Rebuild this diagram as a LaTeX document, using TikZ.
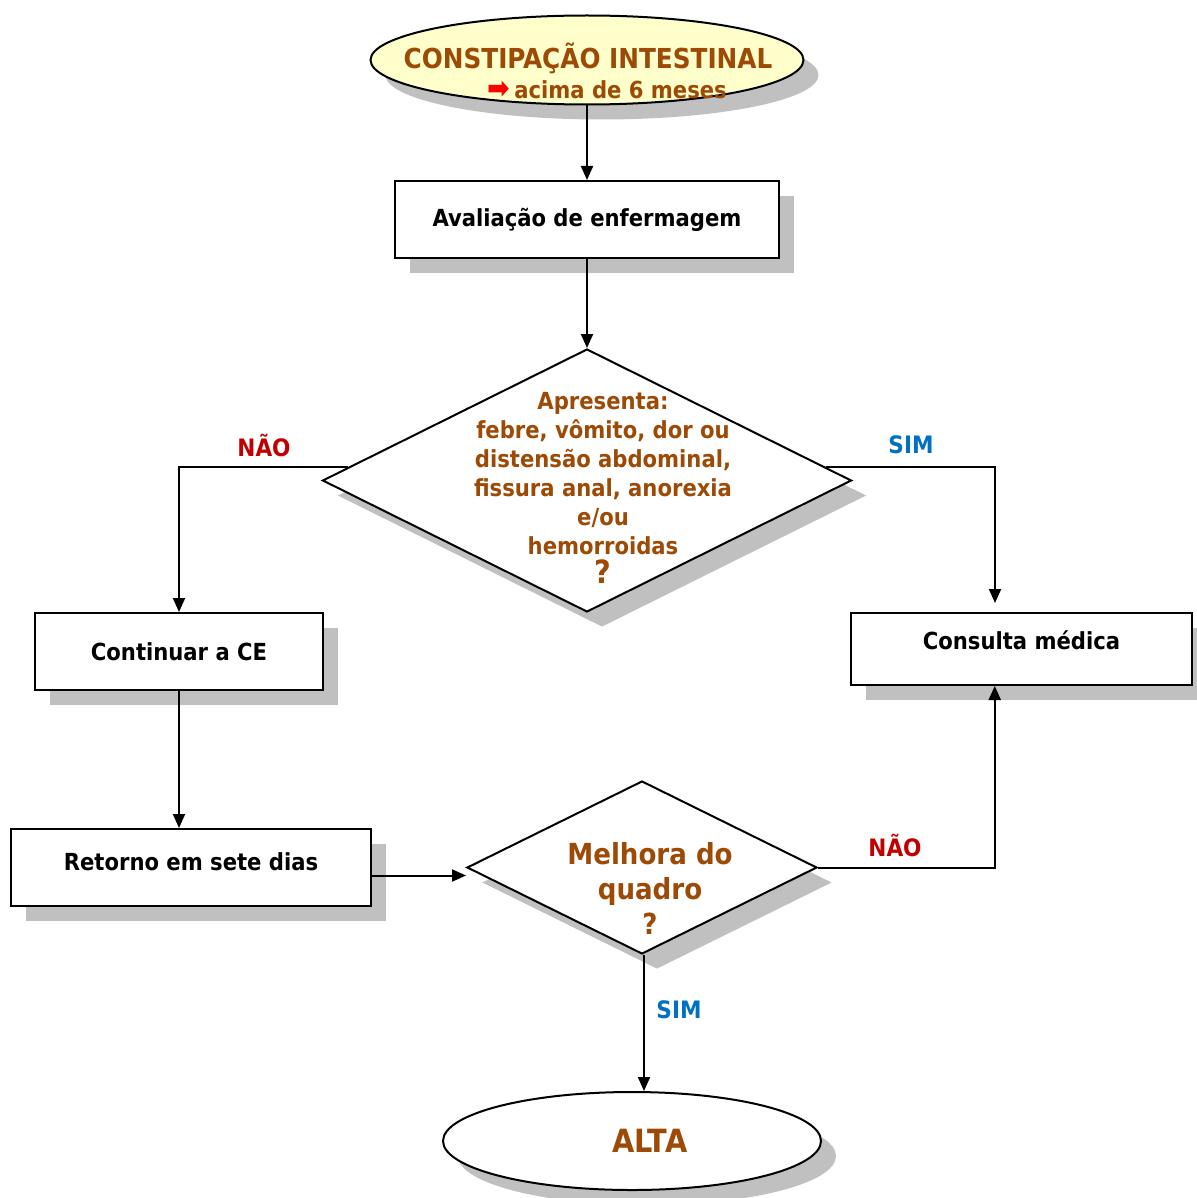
\documentclass[tikz,border=0pt]{standalone}
\usepackage{fontspec}
\setmainfont{DejaVu Sans Condensed}
\usepackage{xcolor}
\definecolor{rust}{HTML}{9C4A06}
\definecolor{cream}{HTML}{FFFFCC}
\definecolor{nored}{HTML}{C00000}
\definecolor{yesblue}{HTML}{0070C0}
\definecolor{shade}{HTML}{C0C0C0}
\usetikzlibrary{shapes.geometric,shadows,arrows.meta,calc}

\begin{document}
\begin{tikzpicture}[x=1pt,y=-1pt,line join=miter,
  shd/.style={drop shadow={shadow xshift=15pt,shadow yshift=-15pt,fill=shade,opacity=1}},
  stepbox/.style={draw,line width=2pt,fill=white,shd,minimum height=77pt,inner sep=0pt,font=\bfseries\fontsize{23.5}{28}\selectfont},
  decide/.style={diamond,draw,line width=2pt,fill=white,shd,inner sep=0pt},
  oval/.style={ellipse,draw,line width=2pt,shd,inner sep=0pt},
  arr/.style={line width=2pt,-{Triangle[length=14pt,width=12pt]}},
  lbl/.style={font=\bfseries\fontsize{24}{28}\selectfont},
  qtext/.style={text=rust,align=center,font=\bfseries\fontsize{23.5}{29}\selectfont}]
  \useasboundingbox (0,0) rectangle (1196,1198);
  % start and end
  \node[oval,fill=cream,minimum width=433pt,minimum height=89pt] (start) at (587,60) {};
  \node[text=rust,align=center,font=\bfseries\fontsize{27.5}{30}\selectfont] (starttxt) at (588,71)
    {CONSTIPAÇÃO INTESTINAL\\\hspace*{38pt}{\color{red}\fontsize{30}{28}\selectfont ➡}\,{\fontsize{23.5}{28}\selectfont acima de 6 meses}};
  \node[oval,fill=white,minimum width=378pt,minimum height=98pt] (alta) at (632,1141) {};
  \node[text=rust,font=\bfseries\fontsize{32}{34}\selectfont] (altatxt) at (650,1141) {ALTA};
  % boxes
  \node[stepbox,minimum width=384pt] (aval) at (587,219.5) {Avaliação de enfermagem};
  \node[stepbox,minimum width=288pt] (cont) at (179,651.5) {Continuar a CE};
  \node[stepbox,minimum width=341pt,minimum height=72pt] (cons) at (1021.5,649) {};
  \node[font=\bfseries\fontsize{23.5}{28}\selectfont] (constxt) at (1021.5,640) {Consulta médica};
  \node[stepbox,minimum width=360pt] (ret) at (191,867.5) {};
  \node[font=\bfseries\fontsize{23.5}{28}\selectfont] (rettxt) at (191,862) {Retorno em sete dias};
  % decisions
  \node[decide,minimum width=529pt,minimum height=263pt] (q1) at (587,480.5) {};
  \node[qtext] (q1txt) at (603,488) {Apresenta:\\febre, vômito, dor ou\\distensão abdominal,\\fissura anal, anorexia\\e/ou\\hemorroidas\\{\fontsize{32}{31}\selectfont ?}};
  \node[decide,minimum width=350pt,minimum height=173pt] (q2) at (642,867.5) {};
  \node[qtext,font=\bfseries\fontsize{29}{35}\selectfont] (q2txt) at (650,888) {Melhora do\\quadro\\?};
  % connectors
  \coordinate (consin) at (995,603);
  \draw[arr] (start.south) -- (aval.north);
  \draw[arr] (aval.south) -- (q1.north);
  \draw[arr] ($(q1.west)!0.1!(q1.north)$) -| (cont.north);
  \draw[arr] ($(q1.east)!0.1!(q1.north)$) -| (consin);
  \draw[arr] (cont.south) -- (cont.south |- ret.north);
  \draw[arr] ([yshift=-8pt]ret.east) -- ([yshift=-8pt]q2.west);
  \draw[arr] (q2.east) -| ($(cons.south west)!0.422!(cons.south east)$);
  \draw[arr] ([xshift=2pt]q2.south) -- ([xshift=2pt]q2.south |- alta.north);
  % labels
  \node[lbl,text=nored] (no1) at (264,445) {NÃO};
  \node[lbl,text=yesblue] (yes1) at (911,445) {SIM};
  \node[lbl,text=nored] (no2) at (895,845) {NÃO};
  \node[lbl,text=yesblue] (yes2) at (679,1010) {SIM};
\end{tikzpicture}
\end{document}
